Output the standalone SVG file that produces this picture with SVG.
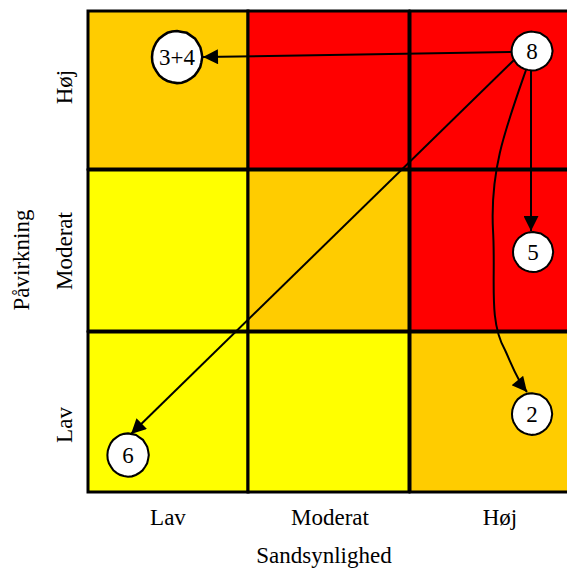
<svg xmlns="http://www.w3.org/2000/svg" width="567" height="569" viewBox="0 0 567 569">
<style>
.t{font-family:"Liberation Serif","Times New Roman",serif;font-size:23px;fill:#000}
.c{stroke:#000;stroke-width:3}
.n{fill:#fff;stroke:#000;stroke-width:2;vector-effect:non-scaling-stroke}
.e{fill:none;stroke:#000;stroke-width:2}
</style>
<defs>
<marker id="ahb" viewBox="0 0 10 10" refX="10" refY="5" markerWidth="19" markerHeight="15" markerUnits="userSpaceOnUse" orient="auto">
<path d="M0,0 L10,5 L0,10 z" fill="#000"/>
</marker>
<path id="blob" d="M0,-20 L4,-19.3 L7.8,-18.6 L11,-16.4 L14.5,-14 L16.8,-10.6 L18.7,-7.4 L19.6,-3.6 L20.2,0 L19.5,4 L18.6,7.6 L16.6,10.9 L14.1,14.3 L10.8,16.7 L7.6,18.5 L3.8,19.8 L0,20.1 L-4,19.5 L-7.7,18.4 L-11.1,16.6 L-14.2,14.2 L-16.6,10.8 L-18.5,7.7 L-19.7,3.9 L-20,0 L-19.6,-4 L-18.4,-7.6 L-16.7,-11 L-14.3,-14.1 L-10.9,-16.6 L-7.6,-18.6 L-3.9,-19.6 z"/>
</defs>
<rect width="567" height="569" fill="#fff"/>
<g id="grid">
<rect class="c" x="88" y="11" width="160" height="158" fill="#FFCC00"/>
<rect class="c" x="248" y="11" width="161" height="158" fill="#FF0000"/>
<rect class="c" x="410" y="11" width="160" height="158" fill="#FF0000"/>
<rect class="c" x="88" y="170" width="160" height="161" fill="#FFFF00"/>
<rect class="c" x="248" y="170" width="161" height="161" fill="#FFCC00"/>
<rect class="c" x="410" y="170" width="160" height="161" fill="#FF0000"/>
<rect class="c" x="88" y="332" width="160" height="160" fill="#FFFF00"/>
<rect class="c" x="248" y="332" width="161" height="160" fill="#FFFF00"/>
<rect class="c" x="410" y="332" width="160" height="160" fill="#FFCC00"/>
</g>
<g id="labels">
<text class="t" x="168" y="525" text-anchor="middle">Lav</text>
<text class="t" x="330" y="525" text-anchor="middle">Moderat</text>
<text class="t" x="500" y="525" text-anchor="middle">Høj</text>
<text class="t" x="324" y="563" text-anchor="middle">Sandsynlighed</text>
<text class="t" transform="translate(72,87) rotate(-90)" text-anchor="middle">Høj</text>
<text class="t" transform="translate(72,251) rotate(-90)" text-anchor="middle">Moderat</text>
<text class="t" transform="translate(72,425) rotate(-90)" text-anchor="middle">Lav</text>
<text class="t" transform="translate(29,260) rotate(-90)" text-anchor="middle">Påvirkning</text>
</g>
<g id="connectors">
<path class="e" d="M512,52 L203,57" marker-end="url(#ahb)"/>
<path class="e" d="M514,60 L131,434" marker-end="url(#ahb)"/>
<path class="e" d="M531,70 L531,231" marker-end="url(#ahb)"/>
<path class="e" d="M526,70 C505,130 490,170 493,230 C496,280 488,320 505,350 C512,365 517,380 527,392" marker-end="url(#ahb)"/>
</g>
<g id="node-34">
<use href="#blob" class="n" transform="translate(177,57) scale(1.25,1.3)"/>
<text class="t" x="177" y="65" text-anchor="middle">3+4</text>
</g>
<g id="node-8">
<use href="#blob" class="n" transform="translate(532,51) scale(1.02,0.97)"/>
<text class="t" x="532" y="59" text-anchor="middle">8</text>
</g>
<g id="node-5">
<use href="#blob" class="n" transform="translate(533,252) scale(1,1)"/>
<text class="t" x="533" y="260" text-anchor="middle">5</text>
</g>
<g id="node-2">
<use href="#blob" class="n" transform="translate(532,414) scale(1,1.04)"/>
<text class="t" x="532" y="422" text-anchor="middle">2</text>
</g>
<g id="node-6">
<use href="#blob" class="n" transform="translate(128,455) scale(1.03,1.08)"/>
<text class="t" x="128" y="463" text-anchor="middle">6</text>
</g>
</svg>
